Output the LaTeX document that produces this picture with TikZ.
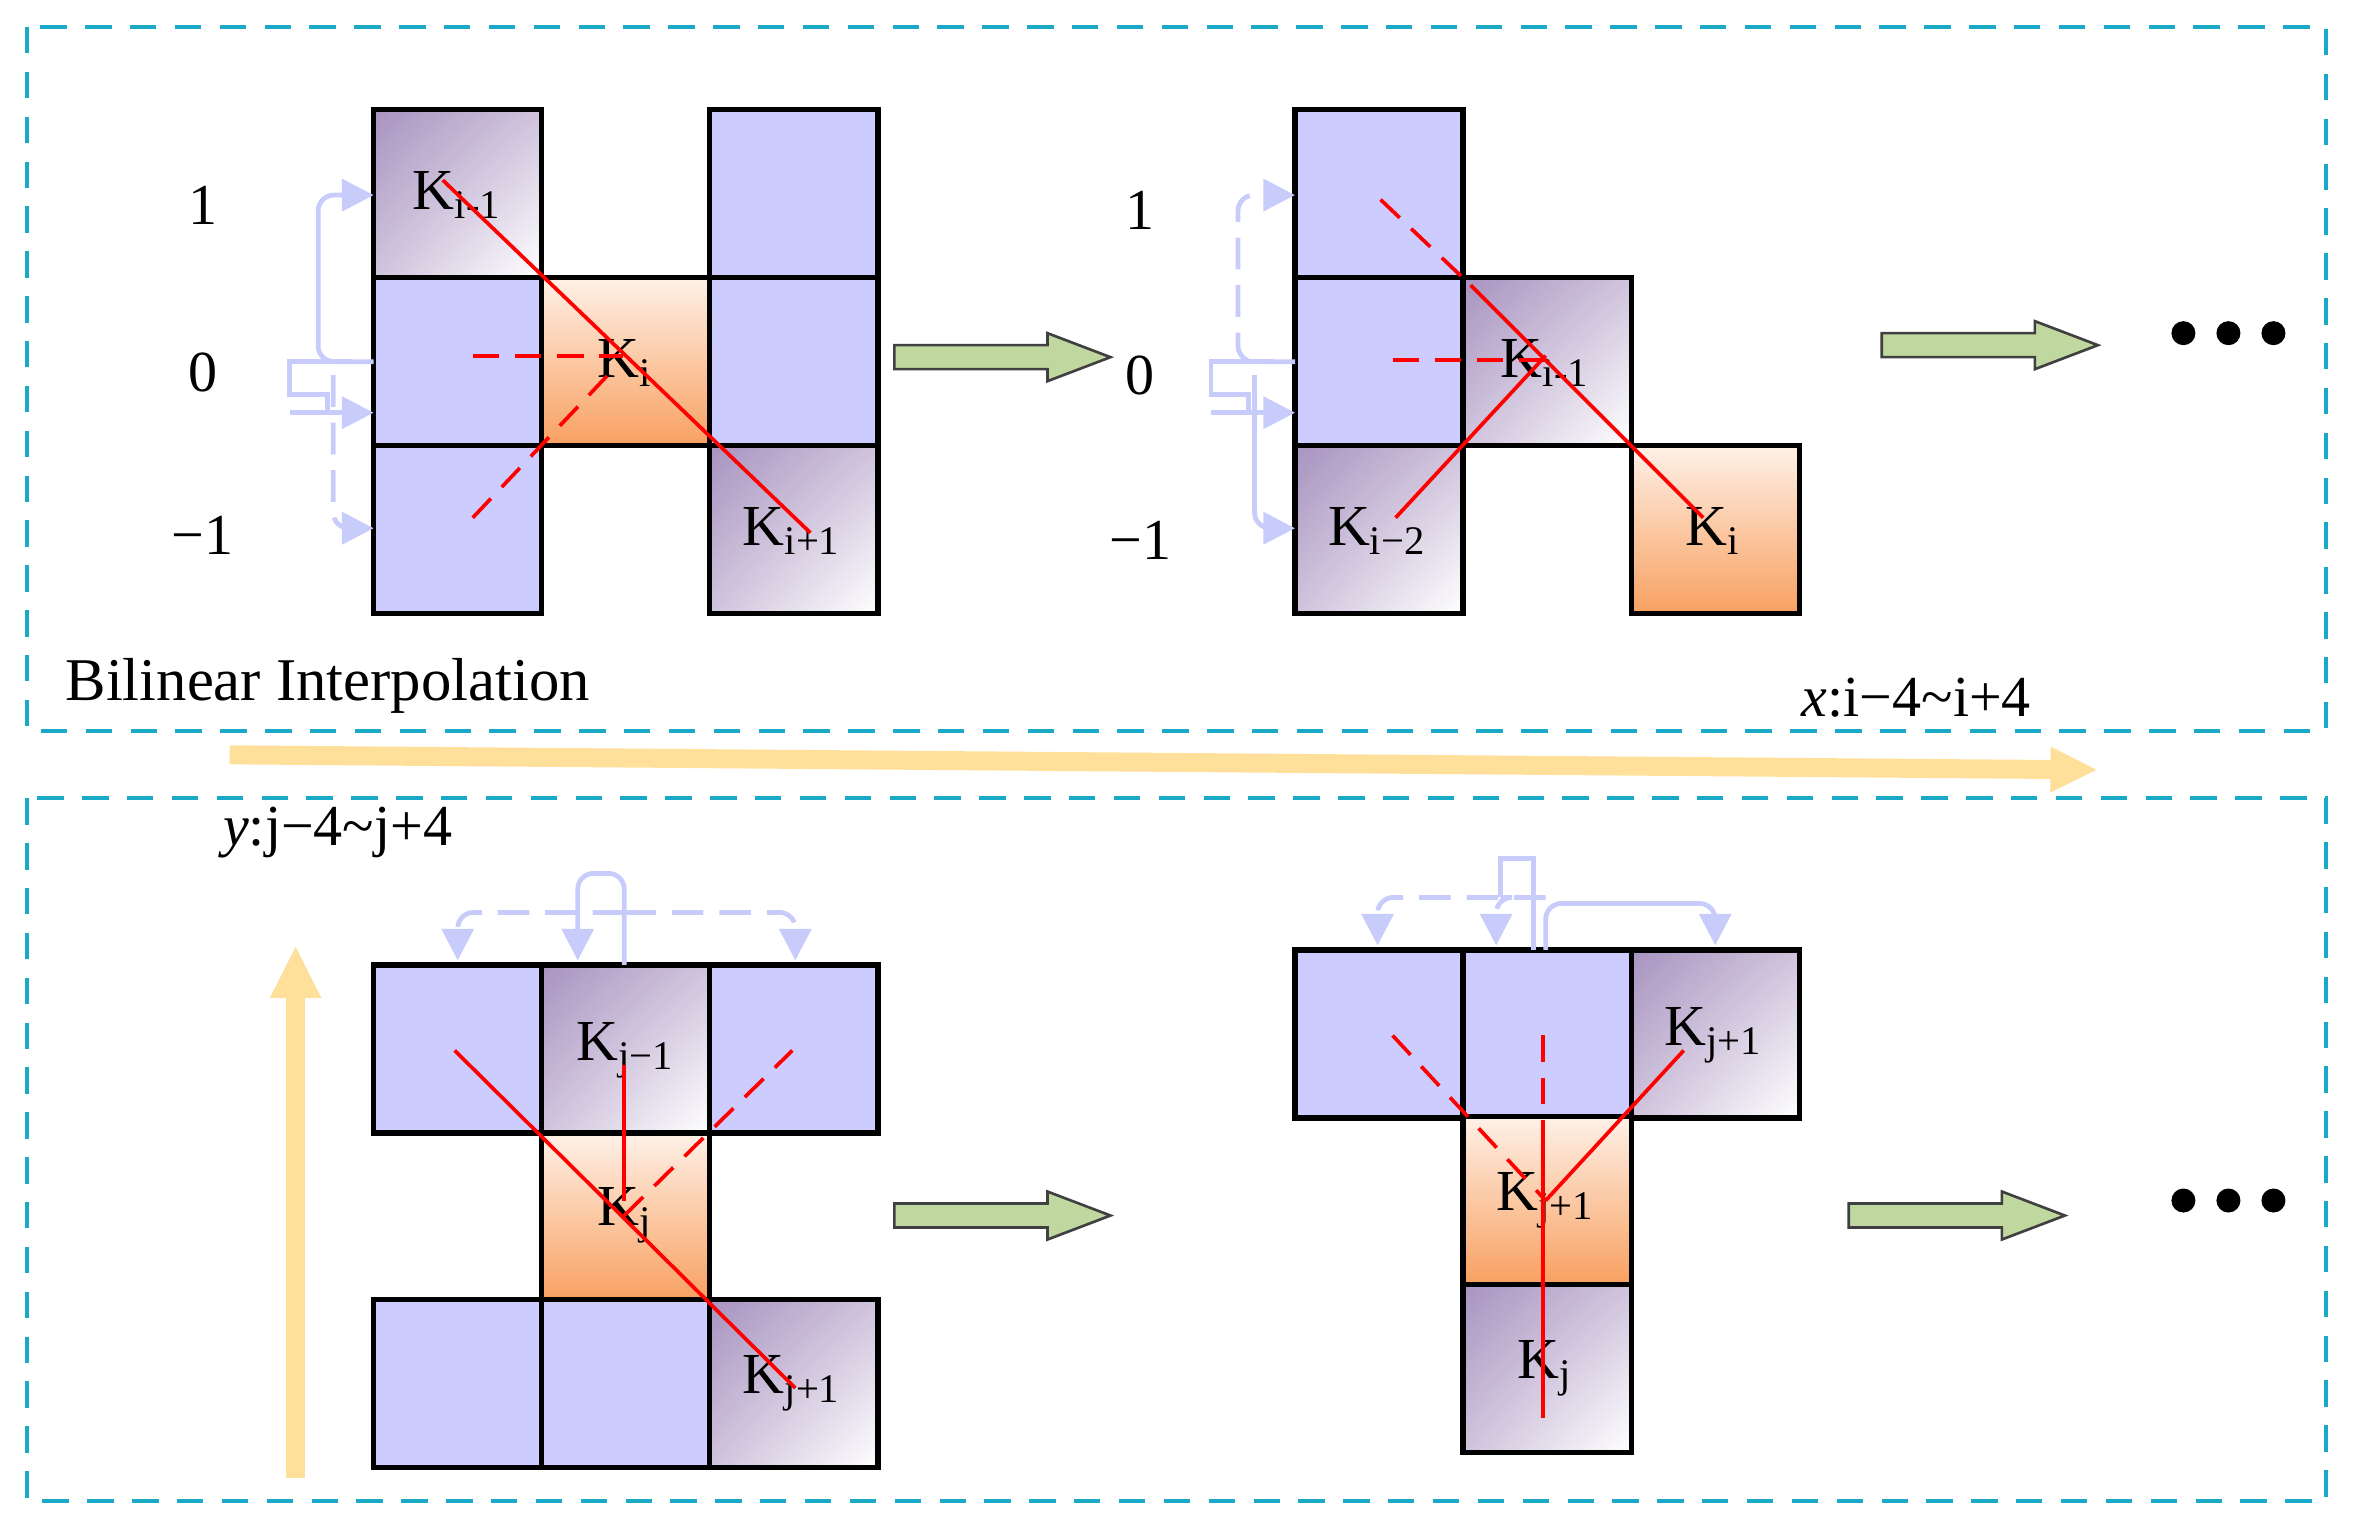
\documentclass[tikz,border=0pt]{standalone}
\usepackage{fontspec}
\setmainfont{Liberation Serif}
\usetikzlibrary{arrows.meta,shadings}
\definecolor{cb}{HTML}{CCCCFF}
\definecolor{pu}{HTML}{A893C0}
\definecolor{org}{HTML}{F8A060}
\definecolor{panel}{HTML}{1AAAC8}
\definecolor{grn}{HTML}{C0D8A0}
\definecolor{grnd}{HTML}{404040}
\definecolor{yel}{HTML}{FFE09A}
\definecolor{lb}{HTML}{C8CCFA}
\begin{document}
\begin{tikzpicture}[x=0.01cm,y=-0.01cm,
 cell/.style={draw=black,line width=1pt},
 blue/.style={cell,fill=cb},
 lab/.style={font=\fontsize{11}{13}\selectfont,inner sep=0},
 rl/.style={red,line width=0.7pt},
 rd/.style={rl,dash pattern=on 5pt off 3pt},
 lbs/.style={lb,line width=0.9pt,-{Triangle[length=6pt,width=6pt]},rounded corners=3pt},
 lbd/.style={lbs,dash pattern=on 6pt off 3pt},
 garr/.style={draw=grnd,fill=grn,line width=0.5pt},
 pnl/.style={draw=panel,line width=0.8pt,dash pattern=on 5pt off 3.5pt}]
\useasboundingbox (0,0) rectangle (1568,1023);
\newcommand{\pcell}[2]{\shade[upper left=pu,upper right=pu!55,lower left=pu!55,lower right=white] (#1,#2) rectangle ++(112,112); \draw[cell] (#1,#2) rectangle ++(112,112);}
\newcommand{\ocell}[2]{\shade[top color=org!15,bottom color=org] (#1,#2) rectangle ++(112,112); \draw[cell] (#1,#2) rectangle ++(112,112);}
\newcommand{\bcell}[2]{\draw[blue] (#1,#2) rectangle ++(112,112);}
% panels
\draw[pnl] (18,18) rectangle (1550,487);
\draw[pnl] (18,532) rectangle (1550,1000);
% top-left group
\pcell{249}{73}\bcell{473}{73}\bcell{249}{185}\ocell{361}{185}\bcell{473}{185}\bcell{249}{297}\pcell{473}{297}
\node[lab] (ka) at (305,130) {K\textsubscript{i-1}};
\node[lab] (kb) at (417,242) {K\textsubscript{i}};
\node[lab] (kc) at (528,354) {K\textsubscript{i+1}};
\node[lab] (l1) at (135,137) {1};
\node[lab] (l0) at (135,248) {0};
\node[lab] (lm) at (135,357) {−1};
\draw[rl] (295,120) -- (540,355);
\draw[rd] (315,237) -- (415,237);
\draw[rd] (315,345) -- (405,250);
\draw[lbs] (249,241) -- (212,241) -- (212,130) -- (249,130);
\draw[lbd] (222,250) -- (222,352) -- (249,352);
\draw[lb,line width=0.9pt] (235,241) -- (193,241) -- (193,263) -- (218,263) -- (218,275);
\draw[lbs] (193,275) -- (249,275);
% arrow 1
\draw[garr] (596,230) -- (698,230) -- (698,222) -- (740,238) -- (698,254) -- (698,246) -- (596,246) -- cycle;
% top-right group
\bcell{863}{73}\bcell{863}{185}\pcell{975}{185}\pcell{863}{297}\ocell{1087}{297}
\node[lab] (kd) at (1030,242) {K\textsubscript{i-1}};
\node[lab] (ke) at (918,354) {K\textsubscript{i−2}};
\node[lab] (kf) at (1142,354) {K\textsubscript{i}};
\node[lab] (m1) at (760,140) {1};
\node[lab] (m0) at (760,250) {0};
\node[lab] (mm) at (760,360) {−1};
\draw[rd] (920,133) -- (980,190);
\draw[rl] (980,190) -- (1135,345);
\draw[rd] (928,240) -- (1030,240);
\draw[rl] (930,345) -- (1030,237);
\draw[lbd] (863,241) -- (825,241) -- (825,130) -- (863,130);
\draw[lbs] (836,250) -- (836,352) -- (863,352);
\draw[lb,line width=0.9pt] (849,241) -- (807,241) -- (807,263) -- (832,263) -- (832,275);
\draw[lbs] (807,275) -- (863,275);
% arrow 2
\draw[garr] (1254,222) -- (1356,222) -- (1356,214) -- (1398,230) -- (1356,246) -- (1356,238) -- (1254,238) -- cycle;
\foreach \x in {1455,1485,1515}{\fill (\x,222) circle (8);}
% labels
\node[lab,font=\fontsize{11.5}{13}\selectfont,anchor=west] (bi) at (43,457) {Bilinear Interpolation};
\node[lab,anchor=west] (xl) at (1200,465) {\textit{x}:i−4\textasciitilde i+4};
\draw[yel,line width=3.6pt,-{Triangle[length=9pt,width=8pt]}] (153,503) -- (1398,513);
\node[lab,anchor=west] (yl) at (148,555) {\textit{y}:j−4\textasciitilde j+4};
\draw[yel,line width=3.6pt,-{Triangle[length=10pt,width=9pt]}] (197,985) -- (197,630);
% bottom-left group
\bcell{249}{643}\pcell{361}{643}\bcell{473}{643}\ocell{361}{755}\bcell{249}{866}\bcell{361}{866}\pcell{473}{866}
\node[lab] (kg) at (417,700) {K\textsubscript{j−1}};
\node[lab] (kh) at (417,810) {K\textsubscript{j}};
\node[lab] (ki) at (528,922) {K\textsubscript{j+1}};
\draw[rl] (303,700) -- (530,925);
\draw[rl] (416,710) -- (416,800);
\draw[rd] (416,810) -- (528,700);
\draw[lbs] (416,643) -- (416,582) -- (385,582) -- (385,640);
\draw[lbd] (416,608) -- (305,608) -- (305,640);
\draw[lbd] (416,608) -- (530,608) -- (530,640);
% arrow 3
\draw[garr] (596,802) -- (698,802) -- (698,794) -- (740,810) -- (698,826) -- (698,818) -- (596,818) -- cycle;
% bottom-right group
\bcell{863}{633}\bcell{975}{633}\pcell{1087}{633}\ocell{975}{744}\pcell{975}{856}
\node[lab] (kj) at (1142,690) {K\textsubscript{j+1}};
\node[lab] (kk) at (1030,800) {K\textsubscript{j+1}};
\node[lab] (kl) at (1030,912) {K\textsubscript{j}};
\draw[rd] (928,690) -- (1030,800);
\draw[rd] (1028,690) -- (1028,760);
\draw[rl] (1028,760) -- (1028,945);
\draw[rl] (1030,800) -- (1122,700);
\draw[lbs] (1030,633) -- (1030,602) -- (1143,602) -- (1143,630);
\draw[lbd] (1030,598) -- (918,598) -- (918,630);
\draw[lb,line width=0.9pt] (1022,633) -- (1022,572) -- (1000,572) -- (1000,598);
\draw[lbd] (1000,598) -- (997,598) -- (997,630);
% arrow 4
\draw[garr] (1232,802) -- (1334,802) -- (1334,794) -- (1376,810) -- (1334,826) -- (1334,818) -- (1232,818) -- cycle;
\foreach \x in {1455,1485,1515}{\fill (\x,800) circle (8);}
\end{tikzpicture}
\end{document}
